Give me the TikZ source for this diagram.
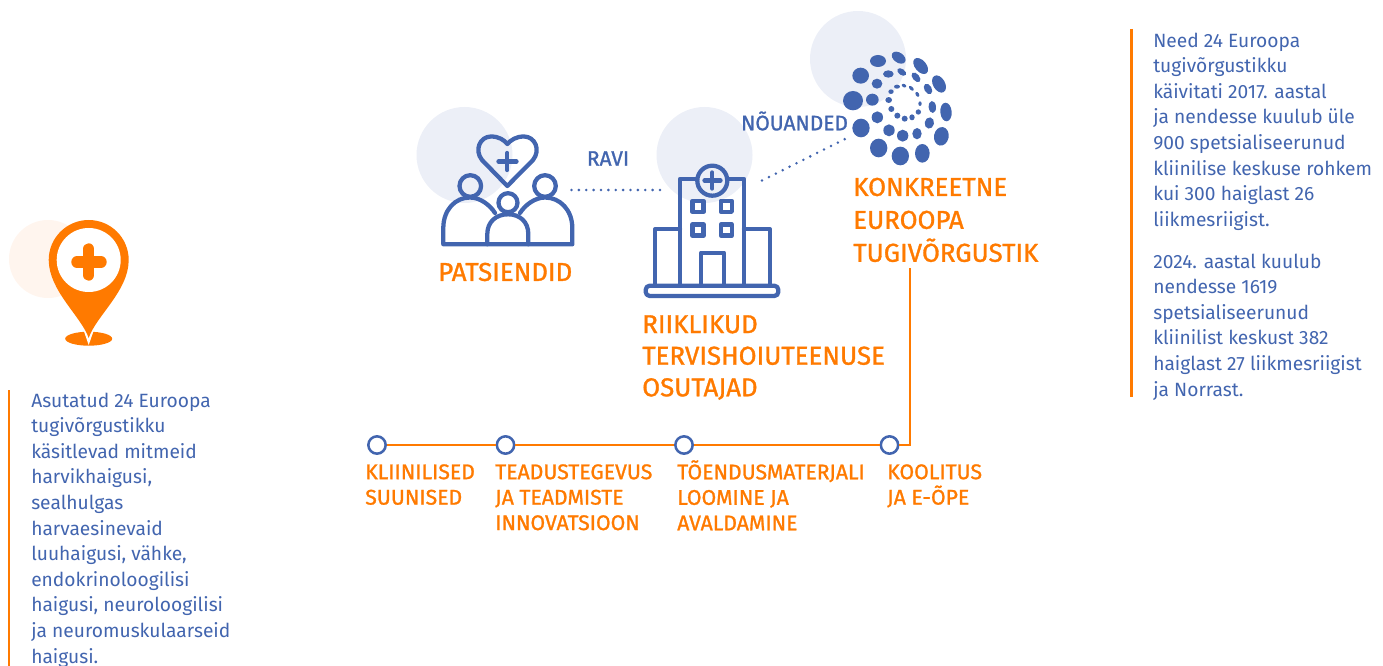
\documentclass[tikz,border=0pt]{standalone}
\usepackage{fontspec}
\setmainfont{Fira Sans}
\newfontfamily\headfont[FakeBold=1.2]{Fira Sans}
\definecolor{ecblue}{HTML}{4265AF}
\definecolor{ecorange}{HTML}{FF7A00}
\definecolor{halo}{HTML}{ECEFF7}
\definecolor{halopale}{HTML}{FFF5EE}
\tikzset{
 x=0.75pt,y=-0.75pt,
 halofill/.style={fill=halo,draw=none},
 icon/.style={draw=ecblue,line width=3.2pt,line join=round,line cap=round,fill=none},
 body/.style={font=\fontsize{14.4pt}{19.2pt}\selectfont,text=ecblue,anchor=north west,inner sep=0pt,align=left},
 head/.style={font=\headfont\fontsize{19.4pt}{24.7pt}\selectfont,text=ecorange,anchor=north west,inner sep=0pt,align=left},
 headtight/.style={head,font=\headfont\fontsize{19.4pt}{23.7pt}\selectfont},
 sub/.style={font=\headfont\fontsize{15.9pt}{19.1pt}\selectfont,text=ecorange,anchor=north west,inner sep=0pt,align=left},
 lab/.style={font=\headfont\fontsize{15.7pt}{15pt}\selectfont,text=ecblue,inner sep=0pt},
 dotline/.style={draw=ecblue,line width=2.1pt,line cap=round,dash pattern=on 0pt off #1},
 bar/.style={draw=ecorange,line width=2.2pt},
 wireline/.style={draw=ecorange,line width=1.1pt,line join=miter},
 stepdot/.style={circle,draw=ecblue,line width=1.9pt,fill=white,minimum size=13pt,inner sep=0pt},
 blob/.style={fill=ecblue,draw=none},
}
\begin{document}
\begin{tikzpicture}
\useasboundingbox (0,0) rectangle (1383,666);
% halos
\fill[halofill] (464.5,155) circle (48);
\fill[halofill] (704.5,155) circle (48);
\fill[halofill] (858,59) circle (48);
\fill[halopale] (48,259) circle (39);
% pin
\fill[ecorange] (88.7,338.7) ellipse (23.5 and 7);
\fill[white] (83.5,330) -- (88.7,345) -- (93.9,330) -- cycle;
\fill[ecorange] (88.7,338) .. controls (81,316) and (49,291) .. (48.7,260) arc[start angle=180,end angle=0,x radius=40,y radius=-40] .. controls (128.7,291) and (96,316) .. (88.7,338) -- cycle;
\fill[white] (88.7,260) circle (32);
\draw[ecorange,line width=8.6pt,line cap=round] (88.7,249) -- (88.7,275);
\draw[ecorange,line width=8.6pt,line cap=round] (77,262) -- (101,262);
% people
\draw[icon] (507.3,186) -- (482,160) .. controls (474,150) and (480,136.5) .. (491,136.5) .. controls (499,136.5) and (504,140) .. (507.3,144) .. controls (511,140) and (516,136.5) .. (524,136.5) .. controls (535,136.5) and (541,150) .. (533,160) -- cycle;
\draw[icon] (507.3,153) -- (507.3,170) (498.5,161.5) -- (516.5,161.5);
\draw[icon] (470.3,186) circle (10.8);
\draw[icon] (545,186) circle (10.8);
\draw[icon] (508,202.7) circle (9.5);
\draw[icon] (487.3,244.3) -- (443.3,244.3) -- (443.3,228) .. controls (443.3,210) and (455,197.5) .. (470,197.5) .. controls (480,197.5) and (490,205) .. (495,213);
\draw[icon] (528.3,244.3) -- (572.3,244.3) -- (572.3,228) .. controls (572.3,210) and (560,197.5) .. (545,197.5) .. controls (535,197.5) and (525,205) .. (520,213);
\draw[icon] (487.3,244.3) -- (487.3,234) .. controls (487.3,222) and (496,214.3) .. (508,214.3) .. controls (520,214.3) and (528.3,222) .. (528.3,234) -- (528.3,244.3) -- cycle;
% hospital
\draw[icon] (697,179) -- (680,179) -- (680,285.7) (727,179) -- (744,179) -- (744,285.7);
\draw[icon] (712.3,180.7) circle (15);
\draw[icon] (712.3,172.5) -- (712.3,188.5) (704.5,180.5) -- (720.5,180.5);
\draw[icon] (692.5,200.8) rectangle ++(11,11);
\draw[icon] (720.8,200.8) rectangle ++(11,11);
\draw[icon] (692.5,224.5) rectangle ++(11,11);
\draw[icon] (720.8,224.5) rectangle ++(11,11);
\draw[icon] (680,229.3) -- (655,229.3) -- (655,285.7);
\draw[icon] (744,229.3) -- (770,229.3) -- (770,285.7);
\draw[icon] (701,285.7) -- (701,252.7) -- (724,252.7) -- (724,285.7);
\draw[icon,rounded corners=3pt] (645.7,285.7) rectangle (778.3,296);
% network
\begin{scope}[shift={(800,0)},x=0.25pt,y=-0.25pt]
\foreach \px/\py/\rx/\ry/\rot in {
 234/183/24/18/0, 296/173/23/15/-35, 362/198/28/17/-50, 417/252/28/18/-60,
 438/336/28/17/-85, 424/409/28/22/80, 367/460/28/22/90, 301/468/26/28/0,
 236/444/26/28/0, 183/384/26/28/0, 159/302/30/29/0, 182/227/25/24/0,
 265/222/16/11/0, 305/216/15/9/-35, 348/232/17/10/-50, 384/267/17/11/-60,
 397/321/18/11/-85, 388/369/17/14/80, 351/401/17/14/90, 308/407/17/18/0,
 267/391/17/18/0, 232/352/17/18/0, 217/299/19/18/0, 231/251/16/15/0,
 273/275/8/7/0, 291/260/9/6/0, 312/257/7/5/-30, 334/265/9/5/-45, 352/283/8/5/-60,
 360/311/7/5/-90, 355/336/8/8/0, 336/352/8/9/0, 314/356/9/9/0, 292/347/9/9/0,
 274/327/9/9/0, 266/300/10/9/0}
 {\fill[blob,rotate around={\rot:(\px,\py)}] (\px,\py) ellipse ({\rx} and {\ry});}
\end{scope}
% dotted connectors
\coordinate (raviA) at (571.5,190);
\coordinate (raviB) at (660.5,190);
\coordinate (nouA) at (762,180.5);
\coordinate (nouB) at (845,139);
\draw[dotline=5.53pt] (raviA) -- (raviB);
\draw[dotline=5.78pt] (nouA) -- (nouB);
% labels
\node[lab] (ravi) at (608,158.5) {RAVI};
\node[lab] (nou) at (794.5,121) {NÕUANDED};
\node[head] (pat) at (438,262.5) {PATSIENDID};
\node[headtight] (rii) at (642,315) {RIIKLIKUD\\TERVISHOIUTEENUSE\\OSUTAJAD};
\node[head] (kon) at (853,177.5) {KONKREETNE\\EUROOPA\\TUGIVÕRGUSTIK};
% steps
\node[stepdot] (s1) at (377,445) {};
\node[stepdot] (s2) at (505.5,445) {};
\node[stepdot] (s3) at (684,445) {};
\node[stepdot] (s4) at (889.5,445) {};
\coordinate (bend) at (910,445);
\coordinate (up) at (910,268);
\draw[wireline] (s1) -- (s2);
\draw[wireline] (s2) -- (s3);
\draw[wireline] (s3) -- (s4);
\draw[wireline] (s4) -- (bend) -- (up);
\node[sub] (t1) at (365,464) {KLIINILISED\\SUUNISED};
\node[sub] (t2) at (495,464) {TEADUSTEGEVUS\\JA TEADMISTE\\INNOVATSIOON};
\node[sub] (t3) at (677,460) {TÕENDUSMATERJALI\\LOOMINE JA\\AVALDAMINE};
\node[sub] (t4) at (887,464) {KOOLITUS\\JA E-ÕPE};
% side texts
\draw[bar] (9,390) -- (9,666);
\draw[bar] (1131.5,29) -- (1131.5,397);
\node[body] (left) at (31,392.5) {Asutatud 24 Euroopa\\tugivõrgustikku\\käsitlevad mitmeid\\harvikhaigusi,\\sealhulgas\\harvaesinevaid\\luuhaigusi, vähke,\\endokrinoloogilisi\\haigusi, neuroloogilisi\\ja neuromuskulaarseid\\haigusi.};
\node[body] (r1) at (1153,32.5) {Need 24 Euroopa\\tugivõrgustikku\\käivitati 2017. aastal\\ja nendesse kuulub üle\\900 spetsialiseerunud\\kliinilise keskuse rohkem\\kui 300 haiglast 26\\liikmesriigist.};
\node[body] (r2) at (1153,253.5) {2024. aastal kuulub\\nendesse 1619\\spetsialiseerunud\\kliinilist keskust 382\\haiglast 27 liikmesriigist\\ja Norrast.};
\end{tikzpicture}
\end{document}
